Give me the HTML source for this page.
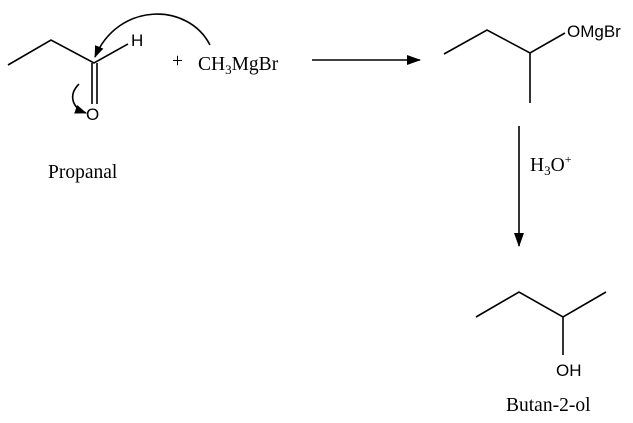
<!DOCTYPE html>
<html><head><meta charset="utf-8"><style>
html,body{margin:0;padding:0;background:#fff;}
svg{display:block;}
.s{font-family:"Liberation Serif",serif;font-size:19.5px;}
.a{font-family:"Liberation Sans",sans-serif;font-size:17px;}
</style></head><body>
<svg width="633" height="423" viewBox="0 0 633 423" xmlns="http://www.w3.org/2000/svg">
<defs>
<marker id="ah" markerWidth="12" markerHeight="9" refX="11" refY="4.5" orient="auto" markerUnits="userSpaceOnUse">
<path d="M0,0 L12,4.5 L0,9 z" fill="#000"/></marker>
<marker id="bh" markerWidth="14" markerHeight="10" refX="13" refY="5" orient="auto" markerUnits="userSpaceOnUse">
<path d="M0,0 L14,5 L0,10 z" fill="#000"/></marker>
</defs>
<g stroke="#000" stroke-width="1.6" fill="none">
<polyline points="8,65 51,40 94,63 128,44"/>
<line x1="92" y1="63" x2="92" y2="104"/>
<line x1="97" y1="63" x2="97" y2="104"/>
<path d="M210,45 C188,2 118,2 95,57" marker-end="url(#ah)"/>
<path d="M79,84 C68,95 72,108 86,113" marker-end="url(#ah)"/>
<line x1="312" y1="60" x2="420" y2="60" marker-end="url(#bh)"/>
<polyline points="444,54 487,30 530,53 565,33"/>
<line x1="530" y1="53" x2="530" y2="103"/>
<line x1="519" y1="126" x2="519" y2="246" marker-end="url(#bh)"/>
<polyline points="476,317 519,292 563,317 606,292"/>
<line x1="563" y1="317" x2="563" y2="355"/>
</g>
<text x="131" y="46" class="a">H</text>
<text x="86" y="120" class="a">O</text>
<text x="172" y="67" class="s" font-size="16">+</text>
<text x="198" y="70" class="s">CH<tspan font-size="13" dy="4">3</tspan><tspan dy="-4">MgBr</tspan></text>
<text x="567" y="37" class="a">OMgBr</text>
<text x="530" y="171" class="s">H<tspan font-size="13" dy="4">3</tspan><tspan dy="-4">O</tspan><tspan font-size="12" dy="-8">+</tspan></text>
<text x="556" y="376" class="a">OH</text>
<text x="48" y="178" class="s">Propanal</text>
<text x="506" y="411" class="s">Butan-2-ol</text>
</svg>
</body></html>
